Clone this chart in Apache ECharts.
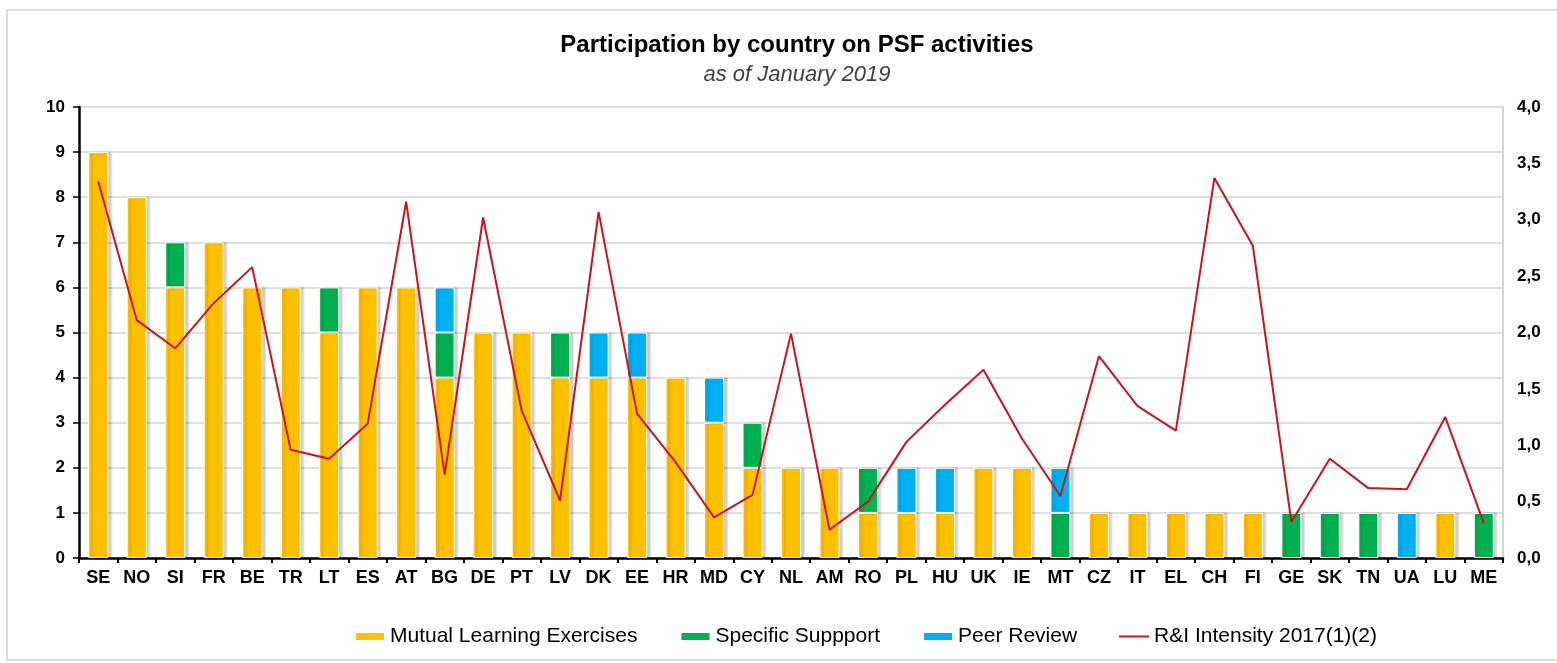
<!DOCTYPE html>
<html lang="en">
<head>
    <meta charset="UTF-8">
    <title>Participation by country on PSF activities</title>
    <script src="https://cdn.jsdelivr.net/npm/echarts@6/dist/echarts.min.js"></script>
    <style>
        html, body { margin: 0; padding: 0; background: #fff; }
        #main { width: 1557px; height: 663px; }
    </style>
</head>
<body>
<div id="main"></div>

<script type="text/javascript">
    // countries
    var countries = ['SE', 'NO', 'SI', 'FR', 'BE', 'TR', 'LT', 'ES', 'AT', 'BG', 'DE', 'PT', 'LV', 'DK', 'EE', 'HR', 'MD', 'CY', 'NL',
        'AM', 'RO', 'PL', 'HU', 'UK', 'IE', 'MT', 'CZ', 'IT', 'EL', 'CH', 'FI', 'GE', 'SK', 'TN', 'UA', 'LU', 'ME'];
    // Mutual Learning Exercises
    var mleData = [9, 8, 6, 7, 6, 6, 5, 6, 6, 4, 5, 5, 4, 4, 4, 4, 3, 2, 2,
        2, 1, 1, 1, 2, 2, 0, 1, 1, 1, 1, 1, 0, 0, 0, 0, 1, 0];
    // Specific Suppport
    var ssData = [0, 0, 1, 0, 0, 0, 1, 0, 0, 1, 0, 0, 1, 0, 0, 0, 0, 1, 0,
        0, 1, 0, 0, 0, 0, 1, 0, 0, 0, 0, 0, 1, 1, 1, 0, 0, 1];
    // Peer Review
    var prData = [0, 0, 0, 0, 0, 0, 0, 0, 0, 1, 0, 0, 0, 1, 1, 0, 1, 0, 0,
        0, 0, 1, 1, 0, 0, 1, 0, 0, 0, 0, 0, 0, 0, 0, 1, 0, 0];
    // R&I Intensity 2017 (right axis)
    var riData = [3.34, 2.11, 1.86, 2.26, 2.58, 0.96, 0.88, 1.19, 3.16, 0.74, 3.02, 1.31, 0.51, 3.07, 1.28, 0.85, 0.36, 0.56, 1.99,
        0.25, 0.50, 1.03, 1.36, 1.67, 1.06, 0.55, 1.79, 1.35, 1.13, 3.37, 2.77, 0.32, 0.88, 0.62, 0.61, 1.25, 0.31];

    var seriesNames = ['Mutual Learning Exercises', 'Specific Suppport', 'Peer Review', 'R&I Intensity 2017(1)(2)'];
    var colors = ['#FFC000', '#00B050', '#00B0F0', '#C8141E'];

    var FONT = "'Liberation Sans', Arial, sans-serif";

    // zeros are left out so empty segments draw nothing
    function noZero(arr) {
        return arr.map(function (v) { return v === 0 ? '-' : v; });
    }

    var barStyle = function (c) {
        return {
            color: c,
            borderColor: '#ffffff',
            borderWidth: 1,
            shadowColor: 'rgba(0,0,0,0.18)',
            shadowBlur: 2,
            shadowOffsetX: 3,
            shadowOffsetY: 0
        };
    };

    var chart = echarts.init(document.getElementById('main'));
    var option = {
        animation: false,
        backgroundColor: '#ffffff',
        textStyle: { fontFamily: FONT },
        graphic: [{
            type: 'rect',
            shape: { x: 7, y: 10, width: 1560, height: 650 },
            style: { fill: 'none', stroke: '#D4D4D4', lineWidth: 1.5 },
            silent: true
        }],
        title: [{
            text: 'Participation by country on PSF activities',
            left: 792,
            top: 28,
            textAlign: 'center',
            textStyle: { fontFamily: FONT, fontSize: 24, fontWeight: 'bold', color: '#000' }
        }, {
            text: 'as of January 2019',
            left: 792,
            top: 59,
            textAlign: 'center',
            textStyle: { fontFamily: FONT, fontSize: 22, fontWeight: 'normal', fontStyle: 'italic', color: '#404040' }
        }],
        legend: {
            left: 349,
            top: 621,
            itemWidth: 30,
            itemHeight: 9,
            itemGap: 42,
            icon: 'rect',
            data: [
                { name: seriesNames[0] },
                { name: seriesNames[1] },
                { name: seriesNames[2] },
                { name: seriesNames[3], icon: 'path://M0,0 L30,0 L30,2 L0,2 Z' }
            ],
            textStyle: { fontFamily: FONT, fontSize: 21, color: '#000' }
        },
        grid: {
            left: 79,
            right: 54,
            top: 107,
            bottom: 105,
            containLabel: false
        },
        xAxis: {
            type: 'category',
            data: countries,
            boundaryGap: true,
            axisLine: { lineStyle: { color: '#000', width: 2.5 } },
            axisTick: { show: true, length: 5, lineStyle: { color: '#000', width: 2 } },
            axisLabel: { interval: 0, margin: 11, fontFamily: FONT, fontSize: 18, fontWeight: 'bold', color: '#000' }
        },
        yAxis: [{
            type: 'value',
            min: 0,
            max: 10,
            interval: 1,
            axisLine: { show: true, lineStyle: { color: '#000', width: 2.5 } },
            axisTick: { show: true, length: 6, lineStyle: { color: '#000', width: 1.5 } },
            axisLabel: { margin: 14, fontFamily: FONT, fontSize: 17, fontWeight: 'bold', color: '#000' },
            splitLine: { show: true, lineStyle: { color: '#D4D4D4', width: 1.5 } }
        }, {
            type: 'value',
            min: 0,
            max: 4,
            interval: 0.5,
            position: 'right',
            axisLine: { show: true, lineStyle: { color: '#C8C8C8', width: 1.5 } },
            axisTick: { show: false },
            axisLabel: {
                margin: 14, fontFamily: FONT, fontSize: 17, fontWeight: 'bold', color: '#000',
                formatter: function (v) { return v.toFixed(1).replace('.', ','); }
            },
            splitLine: { show: false }
        }],
        series: [{
            name: seriesNames[0],
            type: 'bar',
            stack: 'psf',
            barWidth: 20,
            itemStyle: barStyle(colors[0]),
            data: noZero(mleData)
        }, {
            name: seriesNames[1],
            type: 'bar',
            stack: 'psf',
            barWidth: 20,
            itemStyle: barStyle(colors[1]),
            data: noZero(ssData)
        }, {
            name: seriesNames[2],
            type: 'bar',
            stack: 'psf',
            barWidth: 20,
            itemStyle: barStyle(colors[2]),
            data: noZero(prData)
        }, {
            name: seriesNames[3],
            type: 'line',
            yAxisIndex: 1,
            symbol: 'none',
            z: 5,
            itemStyle: { color: colors[3] },
            lineStyle: { color: colors[3], width: 2 },
            data: riData
        }]
    };
    chart.setOption(option);
</script>
</body>
</html>
